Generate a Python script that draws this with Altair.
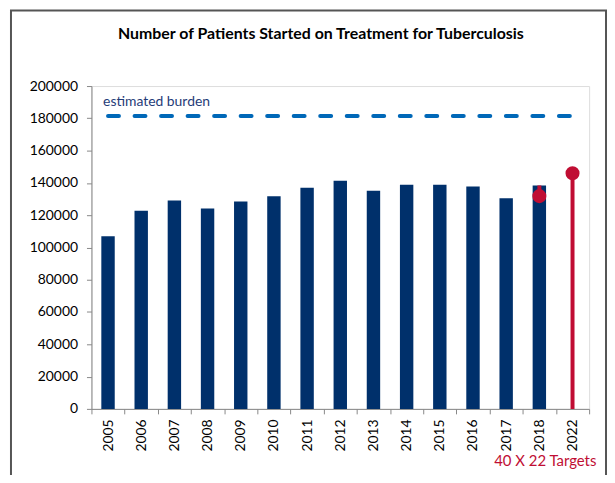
import altair as alt
import pandas as pd

years = ["2005", "2006", "2007", "2008", "2009", "2010", "2011", "2012",
         "2013", "2014", "2015", "2016", "2017", "2018", "2022"]
bar_years = years[:-1]
bar_values = [106900, 122800, 129100, 124200, 128500, 131800, 137000, 141300,
              135100, 138800, 138800, 137800, 130500, 138400]
target_years = ["2018", "2022"]
target_values = [131800, 146000]
target_stem_low = [138400, 0]
burden_years = ["2005", "2022"]
burden_values = [181500, 181500]
y_ticks = [0, 20000, 40000, 60000, 80000, 100000, 120000, 140000, 160000, 180000, 200000]

title_text = "Number of Patients Started on Treatment for Tuberculosis"
burden_label = "estimated burden"
target_label = "40 X 22 Targets"

NAVY = "#00306b"
RED = "#c00d33"
BLUE = "#0068b8"
FONT = "Lato"

bars_df = pd.DataFrame({"year": bar_years, "value": bar_values})
target_df = pd.DataFrame({"year": target_years, "value": target_values, "low": target_stem_low})
burden_df = pd.DataFrame({"year": burden_years, "value": burden_values})

x_scale = alt.Scale(domain=years, paddingInner=0, paddingOuter=0)
y_scale = alt.Scale(domain=[0, 200000], nice=False)

x_axis = alt.Axis(title=None, labelAngle=270, tickBand="extent",
                  labelFont=FONT, labelFontSize=14, labelColor="#000",
                  labelPadding=5, tickSize=5, domainColor="#888",
                  tickColor="#888", grid=False, labelBaseline="middle",
                  labelAlign="right", labelOverlap=False)
y_axis = alt.Axis(title=None, values=y_ticks, format="d", grid=False,
                  labelFont=FONT, labelFontSize=14, labelColor="#000",
                  labelPadding=9, tickSize=5, domainColor="#888",
                  tickColor="#888", labelOverlap=False)


def X():
    return alt.X("year:N", scale=x_scale, sort=years, axis=x_axis)


def Y(field="value:Q"):
    return alt.Y(field, scale=y_scale, axis=y_axis)


bars = alt.Chart(bars_df).mark_bar(color=NAVY, width=13.5).encode(x=X(), y=Y())

stems = alt.Chart(target_df).mark_rule(color=RED, strokeWidth=4).encode(
    x=X(), y=Y("low:Q"), y2="value:Q",
)
dots = alt.Chart(target_df).mark_circle(color=RED, opacity=1, size=200).encode(
    x=X(), y=Y(),
)

burden = alt.Chart(burden_df).mark_line(
    color=BLUE, strokeWidth=4, strokeDash=[11, 15.7], strokeCap="round"
).encode(x=X(), y=Y())

burden_text = alt.Chart(burden_df.iloc[[0]]).mark_text(
    text=burden_label, font=FONT, fontSize=14, color="#1f3c78",
    align="left", baseline="alphabetic", dx=-5, dy=-10,
).encode(x=X(), y=Y())

target_text = alt.Chart(pd.DataFrame({"year": ["2022"], "value": [0]})).mark_text(
    text=target_label, font=FONT, fontSize=15, color=RED,
    align="right", baseline="alphabetic", dx=24, dy=58,
).encode(x=X(), y=Y())

title = alt.Chart(pd.DataFrame({"t": [title_text]})).mark_text(
    font=FONT, fontSize=16, fontWeight="bold", color="#000",
    align="center", baseline="middle",
).encode(text="t:N", x=alt.value(231), y=alt.value(-52))

frame = alt.Chart(pd.DataFrame({"a": [0]})).mark_rect(
    fill="white", fillOpacity=0, stroke="#555", strokeWidth=2
).encode(x=alt.value(-81), x2=alt.value(518), y=alt.value(-76), y2=alt.value(420))

chart = alt.layer(frame, title, bars, stems, dots, burden, burden_text, target_text).properties(
    width=501, height=325,
    autosize=alt.AutoSizeParams(type="none"),
    padding={"left": 84, "top": 77, "right": 18, "bottom": 65},
).configure_view(stroke=None).configure(background="white")

chart.save("out.html", embed_options={"renderer": "svg", "actions": False})
